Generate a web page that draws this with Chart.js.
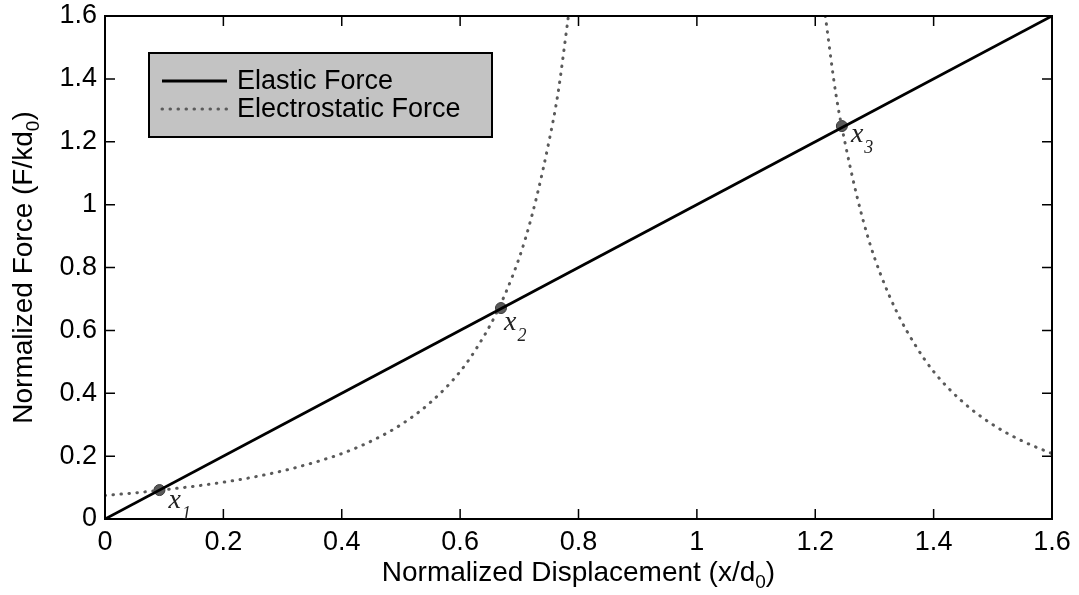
<!DOCTYPE html>
<html>
<head>
<meta charset="utf-8">
<script src="https://cdn.jsdelivr.net/npm/chart.js@4.4.0/dist/chart.umd.min.js"></script>
<style>
html, body { margin: 0; padding: 0; background: #fff; }
#wrap { width: 1079px; height: 595px; }
</style>
</head>
<body>
<div id="wrap"><canvas id="forceChart" width="1079" height="595"></canvas></div>
<script>
// values
const elasticX = [0, 0.4, 0.8, 1.2, 1.6];
const elasticY = [0, 0.4, 0.8, 1.2, 1.6];

const electroLeftX = [0, 0.05, 0.1, 0.15, 0.2, 0.25, 0.3, 0.35, 0.4, 0.45, 0.5, 0.55, 0.6, 0.63, 0.66, 0.69, 0.71, 0.73, 0.75, 0.765, 0.783];
const electroLeftY = [0.075, 0.083, 0.093, 0.104, 0.117, 0.133, 0.153, 0.178, 0.208, 0.248, 0.30, 0.371, 0.469, 0.55, 0.65, 0.78, 0.89, 1.03, 1.2, 1.35, 1.6];
const electroRightX = [1.217, 1.235, 1.25, 1.27, 1.29, 1.31, 1.34, 1.37, 1.4, 1.45, 1.5, 1.55, 1.6];
const electroRightY = [1.6, 1.35, 1.2, 1.03, 0.89, 0.78, 0.65, 0.55, 0.469, 0.371, 0.30, 0.248, 0.208];

const crossX = [0.092, 0.669, 1.245];
const crossY = [0.092, 0.671, 1.25];
const crossNames = ['1', '2', '3'];

const xTickValues = [0, 0.2, 0.4, 0.6, 0.8, 1, 1.2, 1.4, 1.6];
const xTickLabels = ['0', '0.2', '0.4', '0.6', '0.8', '1', '1.2', '1.4', '1.6'];
const yTickValues = [0, 0.2, 0.4, 0.6, 0.8, 1, 1.2, 1.4, 1.6];
const yTickLabels = ['0', '0.2', '0.4', '0.6', '0.8', '1', '1.2', '1.4', '1.6'];

const SANS = '"Liberation Sans", Arial, sans-serif';
const SERIF = '"Liberation Serif", "Times New Roman", serif';

function toPoints(xs, ys) {
  return xs.map((x, i) => ({ x, y: ys[i] }));
}

// one dataset, gap between the two branches
const electroData = toPoints(electroLeftX, electroLeftY)
  .concat([{ x: 1, y: null }])
  .concat(toPoints(electroRightX, electroRightY));

// text with a subscript part: parts = [[text, isSub], ...]
function drawSubText(ctx, parts, cx, baseY, size, subSize) {
  let total = 0;
  parts.forEach(([t, sub]) => {
    ctx.font = (sub ? subSize : size) + 'px ' + SANS;
    total += ctx.measureText(t).width;
  });
  let x = cx - total / 2;
  ctx.textAlign = 'left';
  ctx.textBaseline = 'alphabetic';
  parts.forEach(([t, sub]) => {
    ctx.font = (sub ? subSize : size) + 'px ' + SANS;
    ctx.fillText(t, x, baseY + (sub ? 7 : 0));
    x += ctx.measureText(t).width;
  });
}

const overlay = {
  id: 'overlay',
  afterDraw(chart, args, opts) {
    const { ctx, chartArea: a, scales: { x, y } } = chart;
    ctx.save();

    // box + inward ticks, matlab style
    ctx.strokeStyle = '#000';
    ctx.lineWidth = 2;
    ctx.strokeRect(a.left, a.top, a.right - a.left, a.bottom - a.top);
    ctx.lineWidth = 1.5;
    ctx.beginPath();
    xTickValues.forEach(v => {
      const px = x.getPixelForValue(v);
      ctx.moveTo(px, a.bottom); ctx.lineTo(px, a.bottom - 10);
      ctx.moveTo(px, a.top); ctx.lineTo(px, a.top + 10);
    });
    yTickValues.forEach(v => {
      const py = y.getPixelForValue(v);
      ctx.moveTo(a.left, py); ctx.lineTo(a.left + 10, py);
      ctx.moveTo(a.right, py); ctx.lineTo(a.right - 10, py);
    });
    ctx.stroke();

    // x1, x2, x3 labels
    ctx.fillStyle = '#222';
    ctx.textBaseline = 'alphabetic';
    ctx.textAlign = 'left';
    crossX.forEach((cx, i) => {
      const off = opts.labelOffsets[i];
      const px = x.getPixelForValue(cx) + off[0];
      const py = y.getPixelForValue(crossY[i]) + off[1];
      ctx.font = 'italic 28px ' + SERIF;
      ctx.fillText('x', px, py);
      const w = ctx.measureText('x').width;
      ctx.font = 'italic 18px ' + SERIF;
      ctx.fillText(crossNames[i], px + w + 1, py + 11);
    });

    // legend
    const lg = opts.legend;
    ctx.fillStyle = '#c3c3c3';
    ctx.fillRect(lg.x, lg.y, lg.w, lg.h);
    ctx.strokeStyle = '#000';
    ctx.lineWidth = 2;
    ctx.strokeRect(lg.x, lg.y, lg.w, lg.h);
    const items = chart.data.datasets.filter(d => d.label);
    items.forEach((d, i) => {
      const ry = lg.y + lg.h / 2 + (i - (items.length - 1) / 2) * lg.rowGap;
      ctx.save();
      ctx.strokeStyle = d.borderColor;
      ctx.lineWidth = d.borderWidth;
      ctx.lineCap = d.borderCapStyle || 'butt';
      ctx.setLineDash(d.borderDash || []);
      ctx.beginPath();
      ctx.moveTo(lg.x + 13, ry);
      ctx.lineTo(lg.x + 78, ry);
      ctx.stroke();
      ctx.restore();
      ctx.fillStyle = '#000';
      ctx.font = '27px ' + SANS;
      ctx.textBaseline = 'middle';
      ctx.fillText(d.label, lg.x + 88, ry + 1);
    });

    // axis titles with subscript 0
    ctx.fillStyle = '#000';
    drawSubText(ctx, [['Normalized Displacement (x/d', false], ['0', true], [')', false]],
      (a.left + a.right) / 2, 581, 28, 19);
    ctx.translate(32, (a.top + a.bottom) / 2);
    ctx.rotate(-Math.PI / 2);
    drawSubText(ctx, [['Normalized Force (F/kd', false], ['0', true], [')', false]],
      0, 0, 28, 19);

    ctx.restore();
  }
};

new Chart(document.getElementById('forceChart'), {
  type: 'line',
  data: {
    datasets: [
      {
        label: 'Elastic Force',
        data: toPoints(elasticX, elasticY),
        borderColor: '#000',
        borderWidth: 2.8,
        pointRadius: 0
      },
      {
        label: 'Electrostatic Force',
        data: electroData,
        borderColor: '#5a5a5a',
        borderWidth: 3,
        borderDash: [0.5, 7.5],
        borderCapStyle: 'round',
        cubicInterpolationMode: 'monotone',
        spanGaps: false,
        pointRadius: 0
      },
      {
        label: '',
        data: toPoints(crossX, crossY),
        showLine: false,
        pointRadius: 5.5,
        pointBackgroundColor: '#5a5a5a',
        pointBorderColor: '#3a3a3a',
        pointBorderWidth: 1
      }
    ]
  },
  options: {
    responsive: false,
    animation: false,
    layout: { padding: { top: 16, right: 27, left: 0, bottom: 0 } },
    plugins: {
      legend: { display: false },
      tooltip: { enabled: false },
      overlay: {
        labelOffsets: [[9, 18], [3, 22], [9, 16]],
        legend: { x: 149, y: 53, w: 343, h: 84, rowGap: 28 }
      }
    },
    scales: {
      x: {
        type: 'linear',
        min: 0,
        max: 1.6,
        afterBuildTicks: s => { s.ticks = xTickValues.map(v => ({ value: v })); },
        afterFit: s => { s.height = 76; s.paddingLeft = 0; s.paddingRight = 0; },
        grid: { display: false, drawTicks: false },
        border: { display: false },
        ticks: {
          padding: 7,
          color: '#000',
          font: { family: SANS, size: 27 },
          maxRotation: 0,
          callback: (v, i) => xTickLabels[i]
        }
      },
      y: {
        type: 'linear',
        min: 0,
        max: 1.6,
        afterBuildTicks: s => { s.ticks = yTickValues.map(v => ({ value: v })); },
        afterFit: s => { s.width = 105; s.paddingTop = 0; s.paddingBottom = 0; },
        grid: { display: false, drawTicks: false },
        border: { display: false },
        ticks: {
          padding: 8,
          color: '#000',
          font: { family: SANS, size: 27 },
          callback: (v, i) => yTickLabels[i]
        }
      }
    }
  },
  plugins: [overlay]
});
</script>
</body>
</html>
